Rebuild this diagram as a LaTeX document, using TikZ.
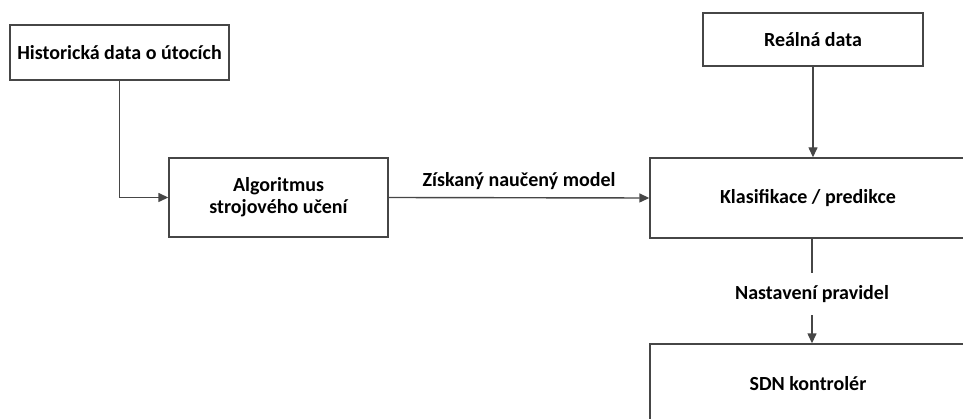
\documentclass[tikz,border=0pt]{standalone}
\usepackage{fontspec}
\setmainfont{Carlito}
\usetikzlibrary{arrows.meta}
\definecolor{linegray}{RGB}{70,70,70}
\begin{document}
\begin{tikzpicture}[x=1pt,y=-1pt,
  txt/.style={font=\fontsize{20}{22}\selectfont\bfseries},
  box/.style={txt, draw=linegray, line width=1.4pt, fill=white, inner sep=0pt, align=center},
  lbl/.style={txt, inner sep=0pt, align=center},
  conn/.style={draw=linegray, line width=1.4pt},
  arr/.style={conn, -{Triangle[length=10pt,width=9pt]}}]
  \useasboundingbox (0,0) rectangle (963,419);
  \clip (0,0) rectangle (963,419);

  % process boxes
  \node[box, minimum width=219pt, minimum height=55pt] (hist) at (119.5,52.5) {Historická data o útocích};
  \node[box, minimum width=219pt, minimum height=79pt] (algo) at (278.5,197.5) {Algoritmus\\strojového učení};
  \node[box, minimum width=220pt, minimum height=53pt] (real) at (813,39.5) {Reálná data};
  \node[box, minimum width=316pt, minimum height=80pt] (klas) at (808,198) {Klasifikace / predikce};
  \node[box, minimum width=316pt, minimum height=80pt] (sdn) at (808,384) {SDN kontrolér};

  % connectors
  \draw[arr] (hist.south) |- (algo.west);
  \draw[arr] (algo.east) -- node[lbl, above=7pt] (model) {Získaný naučený model} (klas.west);
  \draw[arr] (real.south) -- (real.south |- klas.north);
  \node[lbl, minimum height=42pt] (rule) at (812,294) {Nastavení pravidel};
  \draw[conn] (rule.north |- klas.south) -- (rule.north);
  \draw[arr] (rule.south) -- (rule.south |- sdn.north);
\end{tikzpicture}
\end{document}
